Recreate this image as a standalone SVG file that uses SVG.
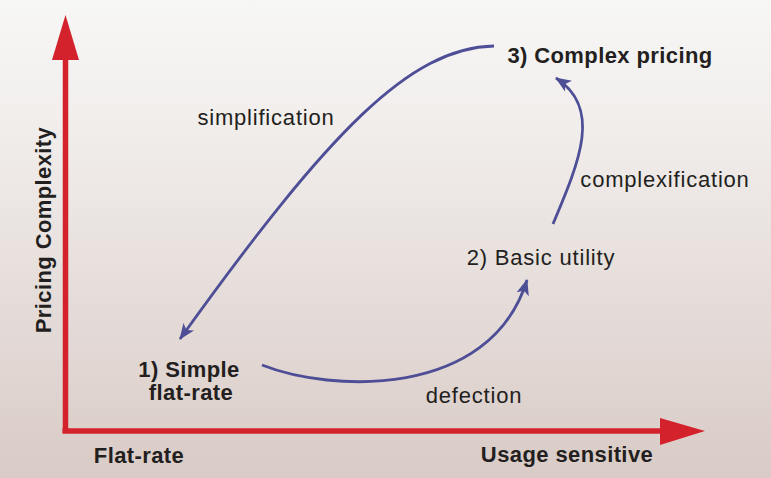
<svg xmlns="http://www.w3.org/2000/svg" width="771" height="478" viewBox="0 0 771 478">
<defs>
<linearGradient id="bg" x1="0" y1="0" x2="0" y2="1">
<stop offset="0" stop-color="#f7f7f6"/>
<stop offset="0.3" stop-color="#f0ecea"/>
<stop offset="1" stop-color="#d9cbc6"/>
</linearGradient>
<marker id="ah" viewBox="0 0 16 13" refX="15" refY="6.5" markerWidth="16" markerHeight="13" markerUnits="userSpaceOnUse" orient="auto">
<path d="M0,0 L16,6.5 L0,13 L4,6.5 Z" fill="#4e4e96"/>
</marker>
<style>
.lbl{font-family:"Liberation Sans",Arial,sans-serif;fill:#231f20;font-size:22px;letter-spacing:0.8px}
.b{font-weight:bold;letter-spacing:0.4px}
.conn{fill:none;stroke:#4e4e96;stroke-width:2.8}
.axis{fill:none;stroke:#d4222c;stroke-width:5.5}
</style>
</defs>
<rect width="771" height="478" fill="url(#bg)"/>
<g id="axes">
<path class="axis" d="M65.5,433 V58"/>
<path d="M65.5,15 L79,60 L52,60 Z" fill="#d4222c"/>
<path class="axis" d="M62.5,431 H662"/>
<path d="M705,431 L660,418 L660,445 Z" fill="#d4222c"/>
<text class="lbl b" transform="translate(51,230) rotate(-90)" text-anchor="middle">Pricing Complexity</text>
<text class="lbl b" x="139" y="463" text-anchor="middle">Flat-rate</text>
<text class="lbl b" x="567" y="462" text-anchor="middle">Usage sensitive</text>
</g>
<g id="connectors">
<path class="conn" d="M494,46 C410,48 330,130 180,339" marker-end="url(#ah)"/>
<path class="conn" d="M262,365 C330,392 490,400 527,280" marker-end="url(#ah)"/>
<path class="conn" d="M553,224 C580,160 602,108 556,78" marker-end="url(#ah)"/>
<text class="lbl" x="266" y="125" text-anchor="middle">simplification</text>
<text class="lbl" x="665" y="187" text-anchor="middle">complexification</text>
<text class="lbl" x="474" y="403" text-anchor="middle">defection</text>
</g>
<g id="n1">
<text class="lbl b" x="189" y="377" text-anchor="middle">1) Simple</text>
<text class="lbl b" x="191" y="400" text-anchor="middle">flat-rate</text>
</g>
<g id="n2">
<text class="lbl" x="541" y="265" text-anchor="middle">2) Basic utility</text>
</g>
<g id="n3">
<text class="lbl b" x="610" y="63" text-anchor="middle">3) Complex pricing</text>
</g>
</svg>
